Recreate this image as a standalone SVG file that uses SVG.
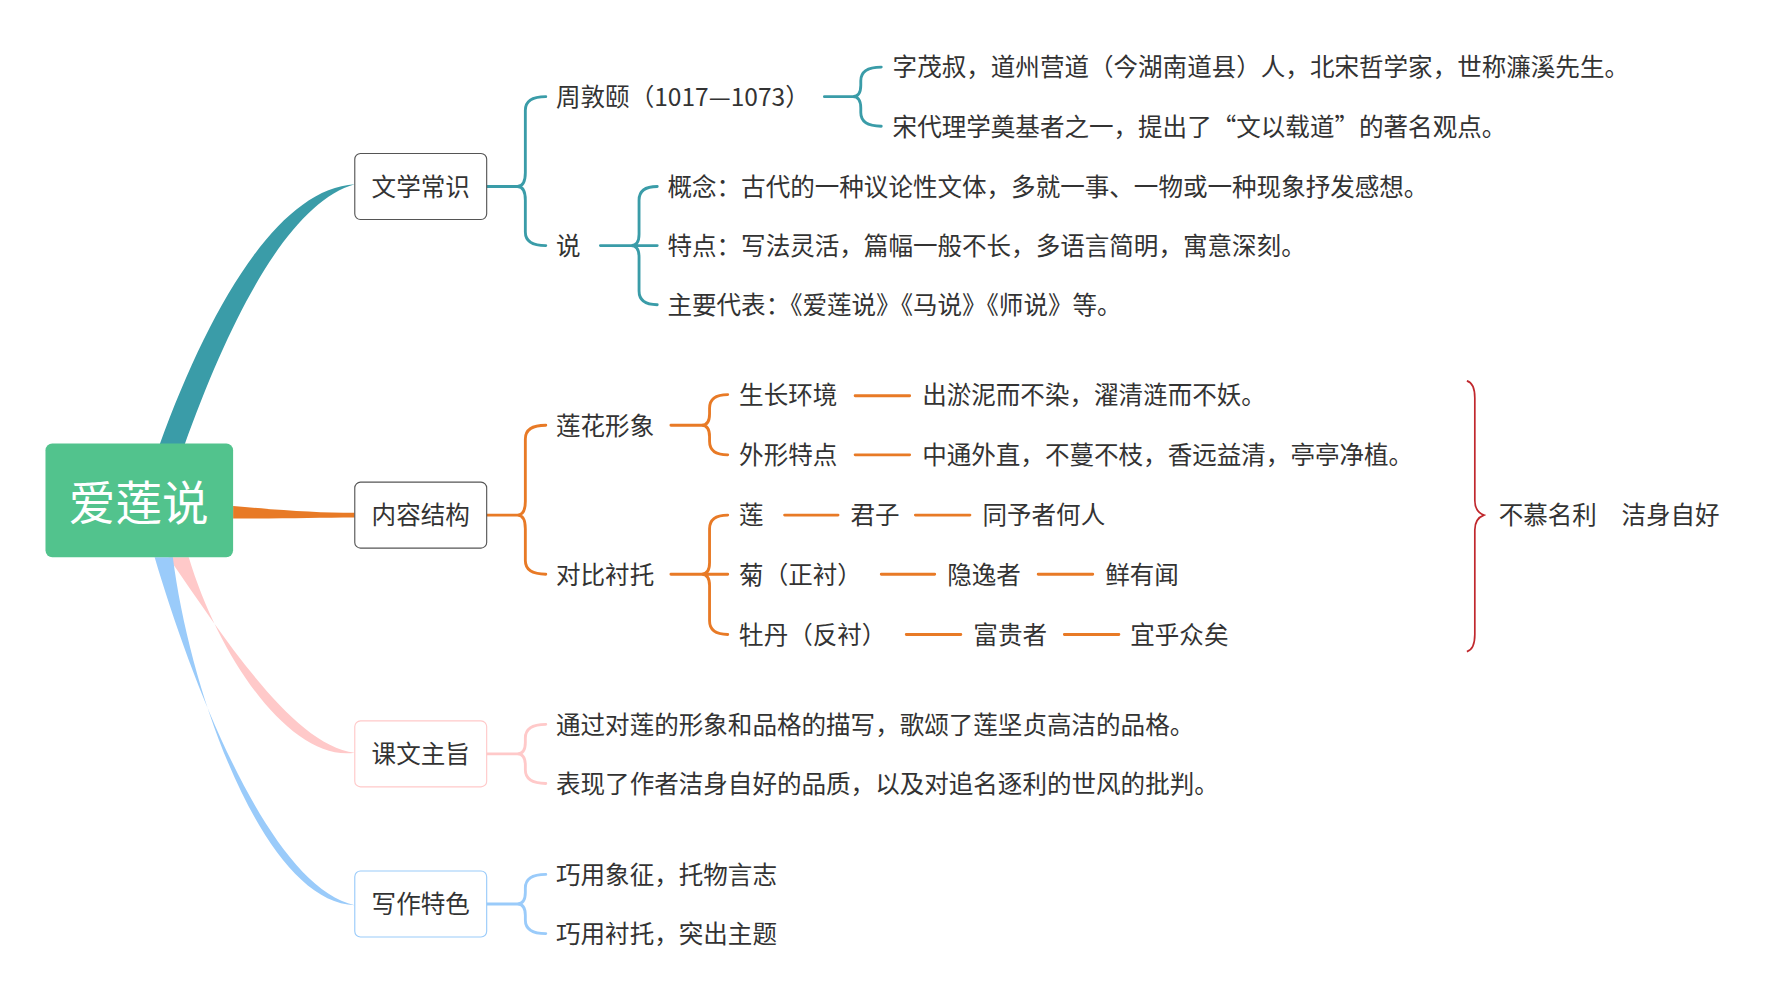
<svg xmlns="http://www.w3.org/2000/svg" width="1783" height="1002" viewBox="0 0 1783 1002">
<style>
text{font-family:"Noto Sans CJK SC","Noto Sans",sans-serif;font-size:21.6px;fill:#333;dominant-baseline:central}
.b{fill:#fff;stroke:#555;stroke-width:1}
.c{fill:none;stroke-width:2.5;stroke-linecap:round}
.t{stroke:#3A9CA8}.o{stroke:#E87A26}.p{stroke:#FFC9C9}.l{stroke:#9ACBFA}
</style>
<rect width="1783" height="1002" fill="#fff"/>
<g transform="scale(1.1371)">
<g id="connectors">
<path d="M140,392 C185,268 245,166 312,162 C256,178 205,272 162,392 Z" fill="#3A9CA8"/>
<path d="M205,445 C250,449 280,451 312,451 L312,455 C280,455 250,456 205,456 Z" fill="#E87A26"/>
<path d="M148,490 C200,565 258,655 312,662 C256,670 193,580 166,490 Z" fill="#FFC9C9"/>
<path d="M136,490 C170,605 238,780 312,796 C234,794 168,615 152,490 Z" fill="#9ACBFA"/>
<path class="c t" d="M428,164 H455 M455,164 Q462,164 462,152 V97 Q462,85 480,85 M455,164 Q462,164 462,176 V204 Q462,216 480,216"/>
<path class="c t" d="M725,85 H750 M750,85 Q757,85 757,75 V71 Q757,59 775,59 M750,85 Q757,85 757,95 V99 Q757,111 775,111"/>
<path class="c t" d="M528,216 H578 M555,216 Q562,216 562,206 V176 Q562,164 578,164 M555,216 Q562,216 562,226 V256 Q562,268 578,268"/>
<path class="c o" d="M428,453 H455 M455,453 Q462,453 462,441 V386 Q462,374 480,374 M455,453 Q462,453 462,465 V493 Q462,505 480,505"/>
<path class="c o" d="M590,374 H617 M617,374 Q624,374 624,364 V359 Q624,347 640,347 M617,374 Q624,374 624,384 V388 Q624,400 640,400"/>
<path class="c o" d="M752,348 H800 M752,400 H800"/>
<path class="c o" d="M590,505 H640 M617,505 Q624,505 624,495 V465 Q624,453 640,453 M617,505 Q624,505 624,515 V546 Q624,558 640,558"/>
<path class="c o" d="M690,453 H737 M805,453 H853 M775,505 H822 M913,505 H961 M797,558 H845 M936,558 H984"/>
<path d="M1290,335 Q1297,337 1297,350 V440 Q1297,450 1305,453 Q1297,456 1297,466 V558 Q1297,571 1290,573" fill="none" stroke="#C0282D" stroke-width="1.5"/>
<path class="c p" d="M428,663 H455 M455,663 Q462,663 462,653 V649 Q462,637 480,637 M455,663 Q462,663 462,673 V677 Q462,689 480,689"/>
<path class="c l" d="M428,795 H455 M455,795 Q462,795 462,785 V781 Q462,769 480,769 M455,795 Q462,795 462,805 V809 Q462,821 480,821"/>
</g>
<g id="root"><rect x="40" y="390" width="165" height="100" rx="6" fill="#52C38D"/><text x="122" y="439" text-anchor="middle" style="font-size:41px;fill:#fff">爱莲说</text></g>
<g id="n1"><rect class="b" x="312" y="135" width="116" height="58" rx="5"/><text x="370" y="163" text-anchor="middle">文学常识</text></g>
<g id="n2"><rect class="b" x="312" y="424" width="116" height="58" rx="5"/><text x="370" y="452" text-anchor="middle">内容结构</text></g>
<g id="n3"><rect class="b" x="312" y="634" width="116" height="58" rx="5" style="stroke:#FFC9C9"/><text x="370" y="662" text-anchor="middle">课文主旨</text></g>
<g id="n4"><rect class="b" x="312" y="766" width="116" height="58" rx="5" style="stroke:#9ACBFA"/><text x="370" y="794" text-anchor="middle">写作特色</text></g>
<g id="leaves">
<text x="489" y="84">周敦颐（1017—1073）</text>
<text x="489" y="215">说</text>
<text x="785" y="58">字茂叔，道州营道（今湖南道县）人，北宋哲学家，世称濂溪先生。</text>
<text x="785" y="110">宋代理学奠基者之一，提出了“文以载道”的著名观点。</text>
<text x="587" y="163">概念：古代的一种议论性文体，多就一事、一物或一种现象抒发感想。</text>
<text x="587" y="215">特点：写法灵活，篇幅一般不长，多语言简明，寓意深刻。</text>
<text x="587" y="267">主要代表：《爱莲说》《马说》《师说》等。</text>
<text x="489" y="373">莲花形象</text>
<text x="489" y="504">对比衬托</text>
<text x="650" y="346">生长环境</text>
<text x="811" y="346">出淤泥而不染，濯清涟而不妖。</text>
<text x="650" y="399">外形特点</text>
<text x="811" y="399">中通外直，不蔓不枝，香远益清，亭亭净植。</text>
<text x="650" y="452">莲</text><text x="748" y="452">君子</text><text x="864" y="452">同予者何人</text>
<text x="650" y="504">菊（正衬）</text><text x="833" y="504">隐逸者</text><text x="972" y="504">鲜有闻</text>
<text x="650" y="557">牡丹（反衬）</text><text x="856" y="557">富贵者</text><text x="994" y="557">宜乎众矣</text>
<text x="1318" y="452">不慕名利　洁身自好</text>
<text x="489" y="636">通过对莲的形象和品格的描写，歌颂了莲坚贞高洁的品格。</text>
<text x="489" y="688">表现了作者洁身自好的品质，以及对追名逐利的世风的批判。</text>
<text x="489" y="768">巧用象征，托物言志</text>
<text x="489" y="820">巧用衬托，突出主题</text>
</g>
</g>
</svg>
